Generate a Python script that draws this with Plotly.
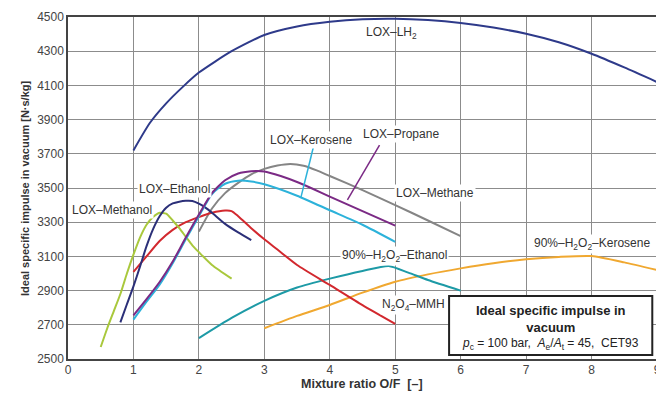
import plotly.graph_objects as go

# ---------------- data ----------------
lh2_x = [1, 1.25, 1.5, 1.75, 2, 2.5, 3, 3.5, 4, 4.5, 5, 5.5, 6, 6.5, 7, 7.5, 8, 8.5, 9]
lh2_y = [3720, 3880, 3995, 4090, 4175, 4300, 4395, 4445, 4472, 4487, 4490, 4482, 4465, 4438, 4402, 4352, 4285, 4205, 4120]

ethanol_x = [0.8, 0.9, 1.0, 1.1, 1.2, 1.3, 1.4, 1.5, 1.6, 1.7, 1.8, 1.9, 2.0, 2.1, 2.2, 2.4, 2.6, 2.8]
ethanol_y = [2714, 2820, 2925, 3040, 3160, 3260, 3335, 3385, 3410, 3420, 3425, 3424, 3408, 3385, 3355, 3290, 3240, 3195]

methanol_x = [0.5, 0.6, 0.7, 0.8, 0.9, 1.0, 1.1, 1.2, 1.3, 1.4, 1.5, 1.6, 1.7, 1.8, 1.9, 2.0, 2.2, 2.5]
methanol_y = [2570, 2680, 2780, 2880, 3000, 3110, 3210, 3285, 3330, 3355, 3350, 3310, 3265, 3215, 3165, 3125, 3050, 2970]

mmh_x = [1.0, 1.2, 1.4, 1.6, 1.8, 2.0, 2.2, 2.4, 2.5, 2.6, 2.8, 3.0, 3.2, 3.5, 4.0, 4.5, 5.0]
mmh_y = [3010, 3100, 3190, 3255, 3300, 3330, 3355, 3368, 3365, 3335, 3265, 3200, 3140, 3050, 2933, 2815, 2705]

kerosene_x = [1.0, 1.2, 1.4, 1.6, 1.8, 2.0, 2.2, 2.4, 2.6, 2.8, 3.0, 3.5, 4.0, 4.5, 5.0]
kerosene_y = [2730, 2835, 2935, 3060, 3200, 3335, 3465, 3525, 3543, 3538, 3522, 3455, 3370, 3285, 3185]

propane_x = [1.0, 1.2, 1.4, 1.6, 1.8, 2.0, 2.2, 2.4, 2.6, 2.8, 3.0, 3.25, 3.5, 4.0, 4.5, 5.0]
propane_y = [2755, 2850, 2950, 3070, 3210, 3345, 3470, 3545, 3585, 3598, 3597, 3570, 3535, 3450, 3365, 3280]

methane_x = [2.0, 2.2, 2.4, 2.6, 2.8, 3.0, 3.2, 3.4, 3.6, 3.8, 4.0, 4.5, 5.0, 5.5, 6.0]
methane_y = [3245, 3380, 3470, 3530, 3580, 3612, 3632, 3641, 3630, 3603, 3570, 3488, 3400, 3310, 3218]

h2o2_eth_x = [2.0, 2.5, 3.0, 3.5, 4.0, 4.5, 4.9, 5.2, 5.5, 6.0]
h2o2_eth_y = [2622, 2740, 2840, 2918, 2970, 3015, 3044, 3005, 2962, 2900]

h2o2_ker_x = [3.0, 3.5, 4.0, 4.5, 5.0, 5.5, 6.0, 6.5, 7.0, 7.5, 8.0, 8.5, 9.0]
h2o2_ker_y = [2680, 2752, 2816, 2888, 2952, 2995, 3030, 3060, 3083, 3097, 3102, 3065, 3020]

x_ticks = [0, 1, 2, 3, 4, 5, 6, 7, 8, 9]
y_ticks = [2500, 2700, 2900, 3100, 3300, 3500, 3700, 3900, 4100, 4300, 4500]

series = [
    (lh2_x, lh2_y, "#2e3a8a"),
    (h2o2_ker_x, h2o2_ker_y, "#f0a830"),
    (h2o2_eth_x, h2o2_eth_y, "#1d9aa6"),
    (methane_x, methane_y, "#858585"),
    (mmh_x, mmh_y, "#d2282e"),
    (methanol_x, methanol_y, "#a9c83c"),
    (ethanol_x, ethanol_y, "#2b2f78"),
    (kerosene_x, kerosene_y, "#2cb2da"),
    (propane_x, propane_y, "#7b2a85"),
]

fig = go.Figure()
for xs, ys, col in series:
    fig.add_trace(go.Scatter(x=xs, y=ys, mode="lines",
                             line=dict(color=col, width=2, shape="spline", smoothing=0.6),
                             showlegend=False, hoverinfo="skip"))

FONT = "Liberation Sans, Arial, sans-serif"
labels = [
    ("LOX–LH<sub>2</sub>", 4.95, 4406, None),
    ("LOX–Kerosene", 3.72, 3781, "white"),
    ("LOX–Propane", 5.09, 3816, "white"),
    ("LOX–Methane", 5.61, 3471, "white"),
    ("LOX–Ethanol", 1.62, 3494, "white"),
    ("LOX–Methanol", 0.67, 3371, "white"),
    ("90%–H<sub>2</sub>O<sub>2</sub>–Ethanol", 4.99, 3102, "white"),
    ("90%–H<sub>2</sub>O<sub>2</sub>–Kerosene", 8.01, 3172, "white"),
    ("N<sub>2</sub>O<sub>4</sub>–MMH", 5.28, 2816, "white"),
]
for txt, lx, ly, bg in labels:
    fig.add_annotation(x=lx, y=ly, text=txt, showarrow=False,
                       xanchor="center", yanchor="middle",
                       font=dict(family=FONT, size=12, color="#333"),
                       bgcolor=bg if bg else "rgba(0,0,0,0)", borderpad=1)

# leader lines
fig.add_shape(type="line", x0=3.75, y0=3740, x1=3.56, y1=3447,
              line=dict(color="#2cb2da", width=1.5))
fig.add_shape(type="line", x0=4.76, y0=3751, x1=4.27, y1=3430,
              line=dict(color="#7b2a85", width=1.5))

# info box
fig.add_shape(type="rect", xref="paper", yref="paper",
              x0=0.647, x1=0.992, y0=0.012, y1=0.184,
              line=dict(color="#222", width=2), fillcolor="white", layer="above")
fig.add_annotation(xref="paper", yref="paper", x=0.8195, y=0.118,
                   text="<b>Ideal specific impulse in<br>vacuum</b>",
                   showarrow=False, xanchor="center", yanchor="middle", align="center",
                   font=dict(family=FONT, size=13, color="#222"))
fig.add_annotation(xref="paper", yref="paper", x=0.8195, y=0.045,
                   text="<i>p</i><sub>c</sub> = 100 bar,  <i>A</i><sub>e</sub>/<i>A</i><sub>t</sub> = 45,  CET93",
                   showarrow=False, xanchor="center", yanchor="middle",
                   font=dict(family=FONT, size=12, color="#222"))

# axis titles
fig.add_annotation(xref="paper", yref="paper", x=0.499, y=-0.072,
                   text="<b>Mixture ratio O/F  [–]</b>", showarrow=False,
                   xanchor="center", yanchor="middle",
                   font=dict(family=FONT, size=12.5, color="#333"))
fig.add_annotation(xref="paper", yref="paper", x=-0.073, y=0.5,
                   text="<b>Ideal specific impulse in vacuum [N·s/kg]</b>", showarrow=False,
                   xanchor="center", yanchor="middle", textangle=-90,
                   font=dict(family=FONT, size=11, color="#333"))

# page body has an 8 px default margin, so the figure is drawn 8 px smaller and offset
fig.update_layout(
    width=656, height=388,
    margin=dict(l=60, r=7, t=9, b=37),
    paper_bgcolor="white", plot_bgcolor="white",
    font=dict(family=FONT, size=12, color="#333"),
)
fig.update_xaxes(range=[0, 9], tickvals=x_ticks, ticktext=[str(v) for v in x_ticks],
                 showgrid=True, gridcolor="#8c8c8c", gridwidth=1,
                 showline=True, linecolor="#444", linewidth=1.5, mirror=True,
                 ticks="", zeroline=False, ticklabelstandoff=-1,
                 tickfont=dict(size=12, color="#444"), automargin=False)
fig.update_yaxes(range=[2500, 4500], tickvals=y_ticks, ticktext=[str(v) for v in y_ticks],
                 showgrid=True, gridcolor="#8c8c8c", gridwidth=1,
                 showline=True, linecolor="#444", linewidth=1.5, mirror=True,
                 ticks="", zeroline=False,
                 tickfont=dict(size=12, color="#444"), automargin=False)

fig.write_html("out.html")
